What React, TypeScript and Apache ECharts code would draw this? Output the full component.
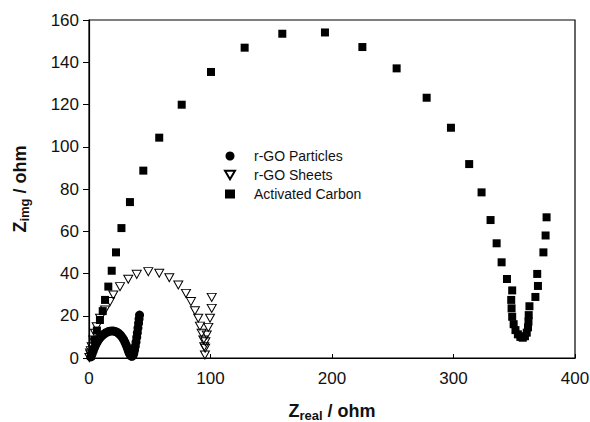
import React, { useEffect, useRef } from "react";
import * as echarts from "echarts";

const seriesNames = ["r-GO Particles", "r-GO Sheets", "Activated Carbon"];

// Z_real (ohm), Z_img (ohm)
const particles: [number, number][] = [
  [1.5, 0.5], [2.5, 1.8], [3.5, 3.3], [4.5, 4.8], [5.5, 6.2], [6.7, 7.5], [8, 8.7], [9.5, 9.8],
  [11, 10.7], [12.5, 11.4], [14, 12], [15.5, 12.4], [17, 12.7], [18.5, 12.8], [20, 12.8],
  [21.5, 12.6], [23, 12.2], [24.5, 11.6], [26, 10.8], [27.3, 9.8], [28.5, 8.7], [29.6, 7.5],
  [30.6, 6.2], [31.5, 4.9], [32.3, 3.6], [33, 2.5], [33.8, 1.6], [34.6, 1.0], [35.4, 0.8],
  [36.2, 1.2], [36.9, 2.3], [37.5, 3.8], [38.1, 5.6], [38.7, 7.6], [39.3, 9.8], [39.8, 12],
  [40.3, 14.2], [40.8, 16.4], [41.2, 18.5], [41.6, 20.3],
];

const sheets: [number, number][] = [
  [0.3, 0.2], [0.8, 2.4], [1.2, 1.5], [1.5, 3.5], [2.2, 5.3], [3.5, 8.5], [4.9, 11.7], [6.3, 14.8],
  [9.1, 18.8], [13.2, 22.7], [17.3, 26.7], [20, 29.8], [25.5, 33.8], [32.3, 37.3], [39.3, 39.6],
  [48.8, 40.9], [57.8, 40.1], [66.1, 38], [73.5, 34.6], [79.8, 30.6], [83.9, 26.7], [87.2, 22.4],
  [89.9, 18.8], [91.3, 15.1], [92.7, 11.7], [94.1, 8.5], [94.9, 5.3], [95.4, 1.4], [95.6, 4.6],
  [95.8, 7.7], [96.9, 10.9], [98.2, 14.5], [99.6, 18.8], [101, 23.5], [101, 28.7],
];

const carbon: [number, number][] = [
  [1.5, 1], [3, 4], [4.5, 8.5], [6.5, 13], [9, 18], [11.3, 22.2], [13.2, 27.5], [15.9, 33.8],
  [18.7, 41.3], [22.2, 50], [26.7, 61.5], [33.7, 73.8], [44.7, 88.7], [57.8, 104.3],
  [76.3, 119.9], [100.4, 135.4], [128.1, 146.9], [159.1, 153.5], [194.2, 154.1], [225, 147.2],
  [253.2, 137.1], [277.9, 123.2], [297.9, 109], [312.9, 91.8], [323.1, 78.4], [330.5, 65.3],
  [335.5, 54.3], [339.6, 45.3], [344, 37.4], [348.3, 32], [347.5, 27.5], [347.8, 23.5],
  [348.3, 19.5], [349.5, 16], [351, 13.2], [353, 11.2], [355, 10], [357, 9.6], [358.8, 10.3],
  [360.3, 12], [361.3, 14.5], [361.7, 17.2], [361.9, 20.3], [362.5, 24.5], [367.4, 28.9],
  [369.5, 34.1], [368.9, 39.8], [374, 50], [375.8, 58], [376.6, 66.6],
];

const xRange = { min: 0, max: 400, interval: 100 };
const yRange = { min: 0, max: 160, interval: 20 };

const FONT = "Liberation Sans, Arial, sans-serif";
const TEXT = "#111";

export default function App() {
  const ref = useRef<HTMLDivElement>(null);
  useEffect(() => {
    if (!ref.current) return;
    const chart = echarts.init(ref.current, undefined, { renderer: "svg" });
    const axisCommon = {
      type: "value" as const,
      splitLine: { show: false },
      axisLine: { show: true, lineStyle: { color: "#000", width: 1.2 } },
    };
    const nameRich = {
      z: { fontSize: 18, fontWeight: "bold", fontFamily: FONT, color: TEXT },
      s: { fontSize: 13, fontWeight: "bold", fontFamily: FONT, color: TEXT, padding: [9, 0, 0, 0] },
    };
    chart.setOption({
      animation: false,
      backgroundColor: "#fff",
      grid: {
        left: 89, right: 15, top: 20, bottom: 64,
        containLabel: false,
        outerBoundsMode: "none",
        show: true, borderColor: "#000", borderWidth: 1.2, backgroundColor: "transparent",
      },
      legend: {
        orient: "vertical",
        left: 224, top: 149,
        padding: 0,
        itemWidth: 10, itemHeight: 9, itemGap: 5,
        textStyle: { fontSize: 14, fontFamily: FONT, color: TEXT, padding: [0, 0, 0, 14], lineHeight: 14 },
        data: seriesNames,
      },
      xAxis: {
        ...axisCommon,
        min: xRange.min, max: xRange.max, interval: xRange.interval,
        axisTick: { show: true, inside: true, length: 4, lineStyle: { color: "#000" } },
        axisLabel: { fontSize: 17, fontFamily: FONT, color: TEXT, margin: 12 },
        name: "{z|Z}{s|real}{z| / ohm}",
        nameLocation: "middle",
        nameGap: 42,
        nameTextStyle: { rich: nameRich },
      },
      yAxis: {
        ...axisCommon,
        min: yRange.min, max: yRange.max, interval: yRange.interval,
        axisTick: { show: true, inside: false, length: 6, lineStyle: { color: "#000" } },
        axisLabel: { fontSize: 17, fontFamily: FONT, color: TEXT, margin: 10 },
        name: "{z|Z}{s|img}{z| / ohm}",
        nameLocation: "middle",
        nameRotate: 90,
        nameGap: 58,
        nameTextStyle: { rich: nameRich },
      },
      series: [
        {
          name: seriesNames[2],
          type: "scatter",
          data: carbon,
          symbol: "rect",
          symbolSize: 8,
          itemStyle: { color: "#000", opacity: 1 },
          z: 2,
        },
        {
          name: seriesNames[1],
          type: "scatter",
          data: sheets,
          symbol: "path://M0,0L10,0L5,8.66Z",
          symbolSize: [9, 8],
          itemStyle: { color: "rgba(0,0,0,0)", borderColor: "#000", borderWidth: 1, opacity: 1 },
          z: 3,
        },
        {
          name: seriesNames[0],
          type: "scatter",
          data: particles,
          symbol: "circle",
          symbolSize: 9,
          itemStyle: { color: "#000", opacity: 1 },
          z: 4,
        },
      ],
    });
    return () => chart.dispose();
  }, []);
  return <div ref={ref} style={{ width: 590, height: 422, position: "fixed", left: 0, top: 0 }} />;
}
